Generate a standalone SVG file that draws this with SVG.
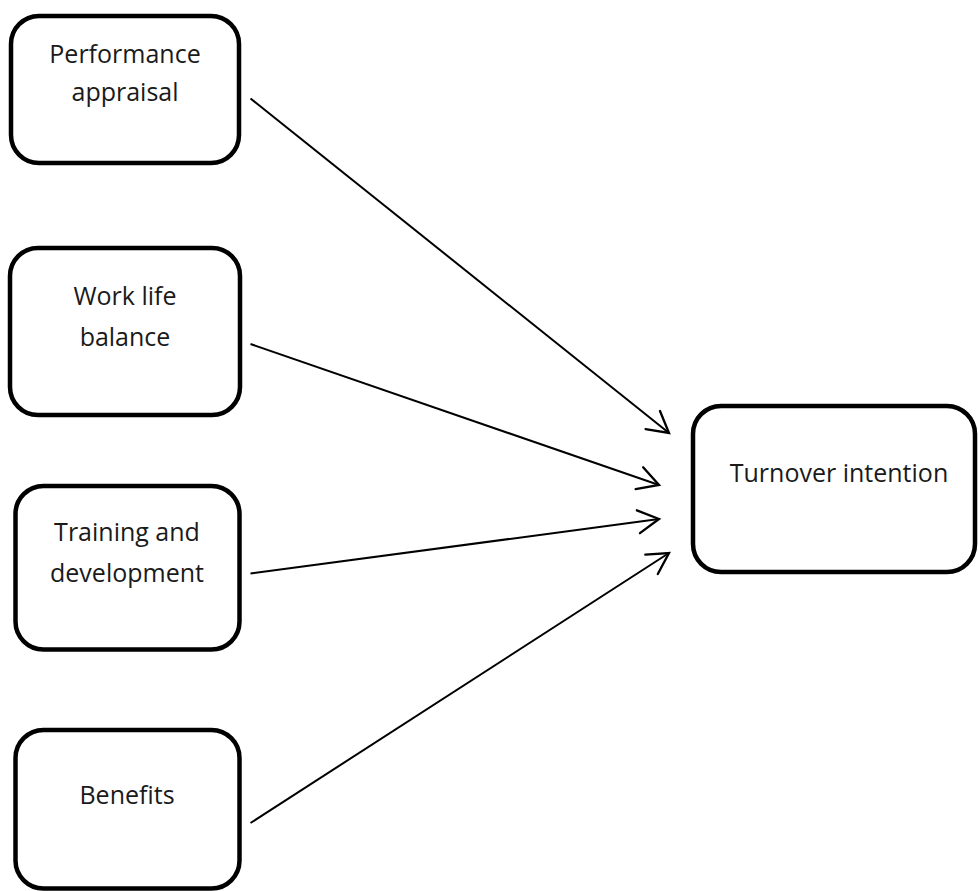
<svg xmlns="http://www.w3.org/2000/svg" width="978" height="891" viewBox="0 0 978 891">
  <style>
    .box { fill: #ffffff; stroke: #000000; stroke-width: 4.5; }
    .label { font-family: "Open Sans", "Liberation Sans", sans-serif; font-size: 25px; fill: #1a1a1a; text-anchor: middle; }
    .link { stroke: #000000; stroke-width: 2; fill: none; marker-end: url(#open-arrow); }
  </style>
  <defs>
    <marker id="open-arrow" markerUnits="userSpaceOnUse" markerWidth="30" markerHeight="30" viewBox="-22 -13 26 26" refX="0" refY="0" orient="auto">
      <path d="M -18,-10 L 0,0 L -18,10" fill="none" stroke="#000000" stroke-width="2" stroke-linecap="round" stroke-linejoin="miter"/>
    </marker>
  </defs>

  <rect width="978" height="891" fill="#ffffff"/>

  <g id="node-performance-appraisal">
    <rect class="box" x="11" y="16" width="228" height="147" rx="28" ry="28"/>
    <text class="label" x="125" y="63">Performance</text>
    <text class="label" x="125" y="101">appraisal</text>
  </g>

  <g id="node-work-life-balance">
    <rect class="box" x="10" y="248" width="230" height="167" rx="28" ry="28"/>
    <text class="label" x="125" y="305">Work life</text>
    <text class="label" x="125" y="346">balance</text>
  </g>

  <g id="node-training-development">
    <rect class="box" x="15.5" y="486" width="224" height="163.5" rx="28" ry="28"/>
    <text class="label" x="127" y="541">Training and</text>
    <text class="label" x="127" y="582">development</text>
  </g>

  <g id="node-benefits">
    <rect class="box" x="15.5" y="730" width="224" height="158.5" rx="28" ry="28"/>
    <text class="label" x="127" y="804">Benefits</text>
  </g>

  <g id="node-turnover-intention">
    <rect class="box" x="693" y="406" width="282" height="166" rx="28" ry="28"/>
    <text class="label" x="839" y="482">Turnover intention</text>
  </g>

  <g id="connectors">
    <line class="link" x1="250.5" y1="98.5" x2="669" y2="433"/>
    <line class="link" x1="250.5" y1="344" x2="659" y2="485"/>
    <line class="link" x1="250.5" y1="573.5" x2="659" y2="519"/>
    <line class="link" x1="250.5" y1="823" x2="669" y2="553"/>
  </g>
</svg>
